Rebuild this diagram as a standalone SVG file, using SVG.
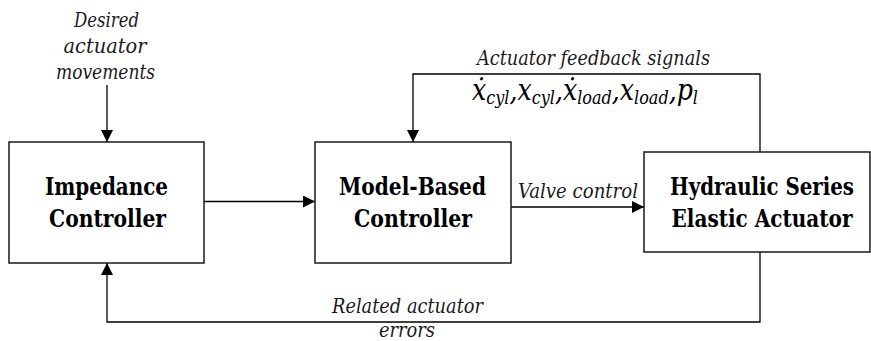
<svg xmlns="http://www.w3.org/2000/svg" width="871" height="341" viewBox="0 0 871 341">
<style>
.box{fill:#fff;stroke:#1a1a1a;stroke-width:1.5}
.t{font-family:'DejaVu Serif Condensed','DejaVu Serif',serif;font-weight:bold;font-size:24.5px;fill:#000;text-anchor:middle}
.i{font-family:'DejaVu Serif Condensed','DejaVu Serif',serif;font-style:italic;font-size:20px;fill:#1a1a1a}
.m{font-family:'DejaVu Serif Condensed','DejaVu Serif',serif;font-style:italic;fill:#000}
.c{fill:none;stroke:#000;stroke-width:1.3}
</style>
<defs>
<marker id="ah" markerWidth="12" markerHeight="12" refX="12" refY="6" orient="auto" markerUnits="userSpaceOnUse">
<path d="M0,0 L12,6 L0,12 Z" fill="#000"/>
</marker>
</defs>
<g id="connectors">
<path class="c" d="M107,85 V142" marker-end="url(#ah)"/>
<path class="c" d="M204,201.5 H315" marker-end="url(#ah)"/>
<path class="c" d="M511,207 H644" marker-end="url(#ah)"/>
<path class="c" d="M760,152 V74 H413 V142" marker-end="url(#ah)"/>
<path class="c" d="M760,252 V322 H107 V263" marker-end="url(#ah)"/>
</g>
<g id="impedance">
<rect class="box" x="9" y="142" width="195" height="121"/>
<text class="t" x="106.5" y="195" textLength="123" lengthAdjust="spacingAndGlyphs">Impedance</text>
<text class="t" x="107.5" y="227" textLength="117" lengthAdjust="spacingAndGlyphs">Controller</text>
</g>
<g id="model">
<rect class="box" x="315" y="142" width="196" height="121"/>
<text class="t" x="412.5" y="195" textLength="147" lengthAdjust="spacingAndGlyphs">Model-Based</text>
<text class="t" x="413" y="227" textLength="118" lengthAdjust="spacingAndGlyphs">Controller</text>
</g>
<g id="hsea">
<rect class="box" x="644" y="152" width="226" height="100"/>
<text class="t" x="762" y="195" textLength="184" lengthAdjust="spacingAndGlyphs">Hydraulic Series</text>
<text class="t" x="762" y="227" textLength="181" lengthAdjust="spacingAndGlyphs">Elastic Actuator</text>
</g>
<g id="labels">
<text class="i" text-anchor="middle" x="106.5" y="27" textLength="65" lengthAdjust="spacingAndGlyphs">Desired</text>
<text class="i" text-anchor="middle" x="105" y="53" textLength="83" lengthAdjust="spacingAndGlyphs">actuator</text>
<text class="i" text-anchor="middle" x="105.5" y="79" textLength="99" lengthAdjust="spacingAndGlyphs">movements</text>
<text class="i" text-anchor="middle" x="593.5" y="65" textLength="233" lengthAdjust="spacingAndGlyphs">Actuator feedback signals</text>
<text class="i" x="518" y="198" textLength="120" lengthAdjust="spacingAndGlyphs">Valve control</text>
<text class="i" text-anchor="middle" x="407.5" y="313" textLength="151" lengthAdjust="spacingAndGlyphs">Related actuator</text>
<text class="i" text-anchor="middle" x="407" y="337" textLength="56" lengthAdjust="spacingAndGlyphs">errors</text>
<text class="m" x="472" y="100" font-size="30" textLength="226" lengthAdjust="spacingAndGlyphs">ẋ<tspan font-size="19" dy="4">cyl</tspan><tspan dy="-4">,x</tspan><tspan font-size="19" dy="4">cyl</tspan><tspan dy="-4">,ẋ</tspan><tspan font-size="19" dy="4">load</tspan><tspan dy="-4">,x</tspan><tspan font-size="19" dy="4">load</tspan><tspan dy="-4">,p</tspan><tspan font-size="19" dy="4">l</tspan></text>
</g>
</svg>
